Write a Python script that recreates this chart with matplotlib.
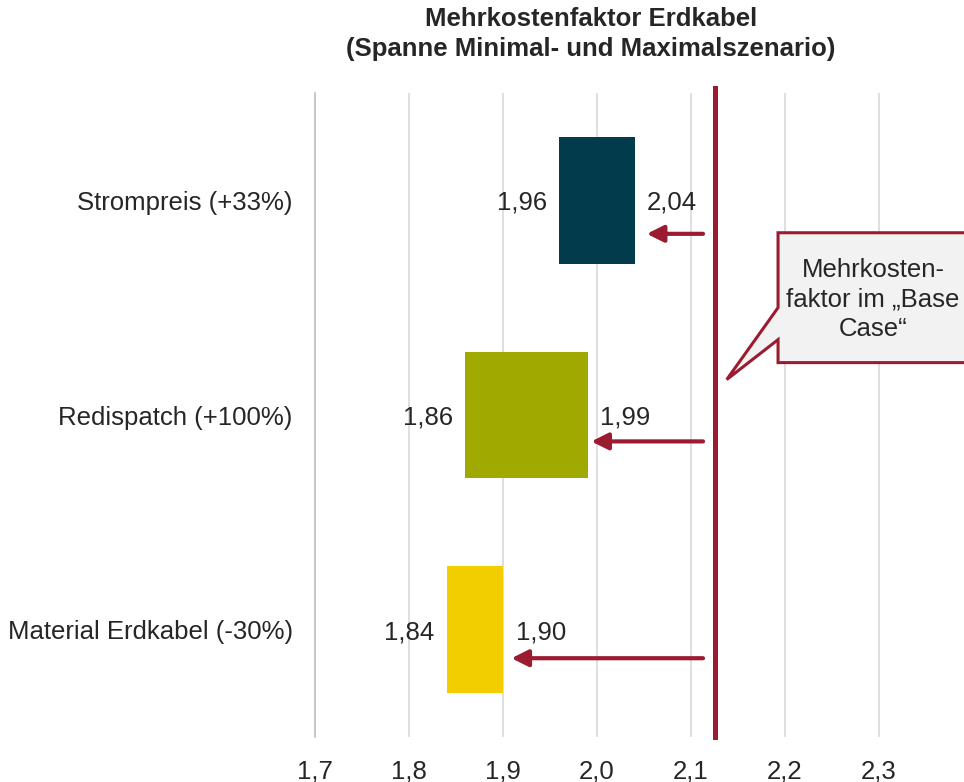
import matplotlib.pyplot as plt
from matplotlib.patches import Polygon
from matplotlib.ticker import FuncFormatter

plt.rcParams['font.family'] = ['Liberation Sans', 'DejaVu Sans']

# Daten (Spanne Minimal- / Maximalszenario)
categories = ['Strompreis (+33%)', 'Redispatch (+100%)', 'Material Erdkabel (-30%)']
min_values = [1.96, 1.86, 1.84]
max_values = [2.04, 1.99, 1.90]
bar_colors = ['#023B4B', '#A0A900', '#F2CD00']
base_case = 2.125
arrow_tips = [2.053, 1.994, 1.909]
arrow_y = [0.156, 1.123, 2.133]
xticks = [1.7, 1.8, 1.9, 2.0, 2.1, 2.2, 2.3]

red = '#9B1B31'
textcol = '#262626'
fs = 18.5

fig = plt.figure(figsize=(9.64, 7.82), dpi=100)
ax = fig.add_axes([315 / 964, 1 - 737 / 782, 649 / 964, 644 / 782])

ypos = list(range(len(categories)))
widths = [mx - mn for mn, mx in zip(min_values, max_values)]
ax.barh(ypos, widths, left=min_values, height=0.59, color=bar_colors, zorder=3)

for y, mn, mx in zip(ypos, min_values, max_values):
    ax.annotate(f'{mn:.2f}'.replace('.', ','), (mn, y), xytext=(-9, 0),
                textcoords='offset points', ha='right', va='center_baseline',
                fontsize=fs, color=textcol)
    ax.annotate(f'{mx:.2f}'.replace('.', ','), (mx, y), xytext=(9, 0),
                textcoords='offset points', ha='left', va='center_baseline',
                fontsize=fs, color=textcol)

# Base case line + arrows
ax.axvline(base_case, ymin=0.0, ymax=1.008, color=red, lw=3.6, zorder=4,
           clip_on=False)
for tip, y in zip(arrow_tips, arrow_y):
    ax.annotate('', xy=(tip, y), xytext=(2.1128, y),
                arrowprops=dict(arrowstyle='-|>,head_length=0.5,head_width=0.25',
                                mutation_scale=20, lw=3, color=red,
                                shrinkA=0, shrinkB=0), zorder=5)

# callout box
bx0, bx1, by0, by1 = 2.1926, 2.5, 0.151, 0.756
callout = Polygon([(bx0, by0), (bx1, by0), (bx1, by1), (bx0, by1),
                   (bx0, 0.649), (2.138, 0.835), (bx0, 0.5)], closed=True,
                  facecolor='#F2F2F2', edgecolor=red, lw=2.2, zorder=6)
ax.add_patch(callout)
ax.text(2.2936, 0.463, 'Mehrkosten-\nfaktor im \u201eBase\nCase\u201c', ha='center',
        va='center', fontsize=fs, color=textcol, linespacing=1.3, zorder=7)

ax.set_xlim(1.7, 1.7 + 649 / 940)
ax.set_ylim(2.5, -0.5)
ax.set_xticks(xticks)
ax.xaxis.set_major_formatter(FuncFormatter(lambda v, p: f'{v:.1f}'.replace('.', ',')))
ax.set_yticks(ypos)
ax.set_yticklabels(categories)
ax.tick_params(axis='both', length=0, labelsize=fs, colors=textcol)
ax.tick_params(axis='x', pad=16)
ax.tick_params(axis='y', pad=16)
ax.grid(axis='x', color='#D9D9D9', lw=1.2, zorder=0)
for s in ['top', 'right', 'bottom']:
    ax.spines[s].set_visible(False)
ax.spines['left'].set_color('#BFBFBF')
ax.spines['left'].set_linewidth(1.2)

fig.text(591 / 964, 1 - 19 / 782, 'Mehrkostenfaktor Erdkabel', ha='center',
         va='center', fontsize=fs, fontweight='bold', color=textcol)
fig.text(591 / 964, 1 - 49 / 782, '(Spanne Minimal- und Maximalszenario)',
         ha='center', va='center', fontsize=fs, fontweight='bold', color=textcol)

fig.savefig('out.png', dpi=100)
